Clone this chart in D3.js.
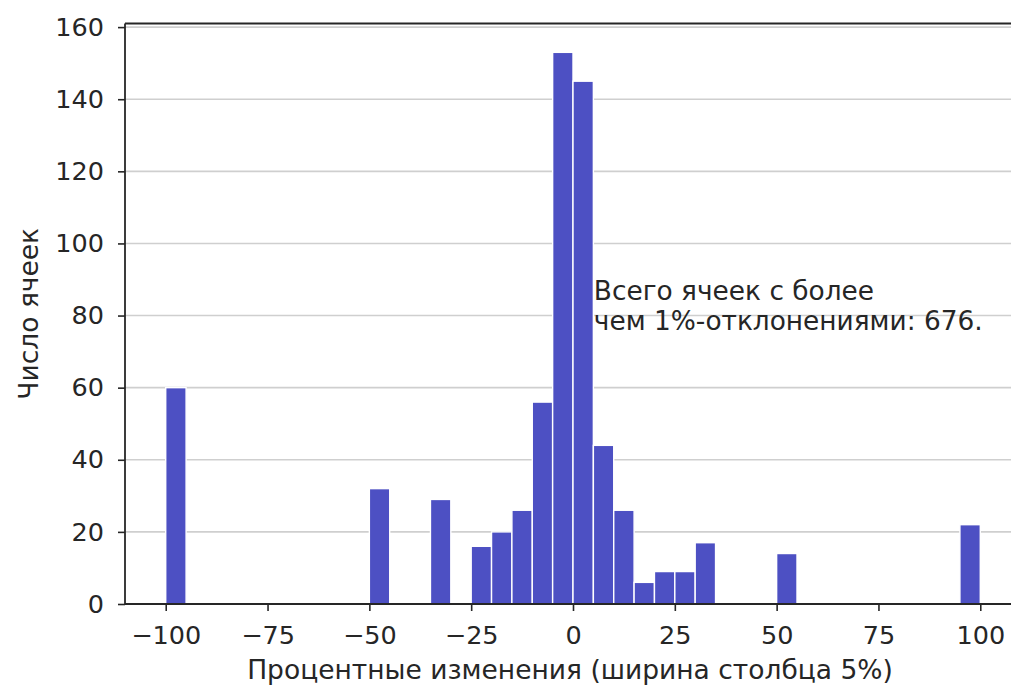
<!DOCTYPE html>
<html>
<head>
<meta charset="utf-8">
<script src="https://cdn.jsdelivr.net/npm/d3@7"></script>
<style>
    body { margin: 0; background: #fff; }
    text { font-family: "DejaVu Sans", sans-serif; fill: #262626; }
</style>
</head>
<body>
<div id="chart"></div>
<script>
// bin left edges (5% wide) and counts
var binStarts = [-100, -50, -35, -25, -20, -15, -10, -5, 0, 5, 10, 15, 20, 25, 30, 50, 95];
var binCounts = [60, 32, 29, 16, 20, 26, 56, 153, 145, 44, 26, 6, 9, 9, 17, 14, 22];
var binWidth = 5;
var xTicks = [-100, -75, -50, -25, 0, 25, 50, 75, 100];
var yTicks = [0, 20, 40, 60, 80, 100, 120, 140, 160];
var noteLines = ["Всего ячеек с более", "чем 1%-отклонениями: 676."];

var svgW = 1011;
var svgH = 686;

var margin = { top: 23.5, left: 125, bottom: 82 };
var plotBottom = svgH - margin.bottom;

var bins = binStarts.map(function(s, i) { return { x0: s, count: binCounts[i] }; });

var svg = d3.select("#chart")
    .append("svg")
    .attr("width", svgW)
    .attr("height", svgH);

var xScale = d3.scaleLinear()
    .domain([-110, 110])
    .range([margin.left, 1021]);

var yScale = d3.scaleLinear()
    .domain([0, 161])
    .range([plotBottom, margin.top]);

// grid
svg.append("g")
    .selectAll("line")
    .data(yTicks.filter(function(d) { return d > 0; }))
    .enter()
    .append("line")
    .attr("x1", margin.left)
    .attr("x2", svgW)
    .attr("y1", function(d) { return yScale(d); })
    .attr("y2", function(d) { return yScale(d); })
    .attr("stroke", "#cfcfcf")
    .attr("stroke-width", 1.6);

// bars
svg.append("g")
    .selectAll("rect")
    .data(bins)
    .enter()
    .append("rect")
    .attr("x", function(d) { return xScale(d.x0); })
    .attr("width", function(d) { return xScale(d.x0 + binWidth) - xScale(d.x0); })
    .attr("y", function(d) { return yScale(d.count); })
    .attr("height", function(d) { return yScale(0) - yScale(d.count); })
    .attr("fill", "#4d50c3")
    .attr("stroke", "#ffffff")
    .attr("stroke-width", 1.4);

// axes
var bAxis = d3.axisBottom(xScale)
    .tickValues(xTicks)
    .tickSizeOuter(0)
    .tickSize(7)
    .tickPadding(15)
    .tickFormat(function(d) { return d < 0 ? "\u2212" + Math.abs(d) : d; });

var lAxis = d3.axisLeft(yScale)
    .tickValues(yTicks)
    .tickSizeOuter(0)
    .tickSize(7)
    .tickPadding(14);

var xAxis = svg.append("g")
    .attr("transform", `translate(0, ${plotBottom})`)
    .call(bAxis);

var yAxis = svg.append("g")
    .attr("transform", `translate(${margin.left}, 0)`)
    .call(lAxis);

[xAxis, yAxis].forEach(function(ax) {
    ax.select(".domain").remove();
    ax.selectAll("line").attr("stroke", "#262626").attr("stroke-width", 1.6);
    ax.selectAll("text")
        .attr("font-family", "DejaVu Sans")
        .attr("font-size", 25.5)
        .attr("fill", "#262626");
});

// spines
svg.append("line")
    .attr("x1", margin.left).attr("x2", margin.left)
    .attr("y1", margin.top).attr("y2", plotBottom)
    .attr("stroke", "#262626").attr("stroke-width", 1.8);
svg.append("line")
    .attr("x1", margin.left).attr("x2", svgW)
    .attr("y1", plotBottom).attr("y2", plotBottom)
    .attr("stroke", "#262626").attr("stroke-width", 1.8);
svg.append("line")
    .attr("x1", margin.left).attr("x2", svgW)
    .attr("y1", margin.top).attr("y2", margin.top)
    .attr("stroke", "#262626").attr("stroke-width", 1.8);

// axis labels
svg.append("text")
    .attr("x", 570)
    .attr("y", 679)
    .attr("text-anchor", "middle")
    .attr("font-size", 26.5)
    .text("Процентные изменения (ширина столбца 5%)");

svg.append("text")
    .attr("transform", `translate(38, ${(margin.top + plotBottom) / 2}) rotate(-90)`)
    .attr("text-anchor", "middle")
    .attr("font-size", 26.5)
    .text("Число ячеек");

// note
svg.append("g")
    .selectAll("text")
    .data(noteLines)
    .enter()
    .append("text")
    .attr("x", xScale(5) + 0.5)
    .attr("y", function(d, i) { return 300 + i * 30; })
    .attr("font-size", 26.4)
    .attr("fill", "#111")
    .text(function(d) { return d; });
</script>
</body>
</html>
